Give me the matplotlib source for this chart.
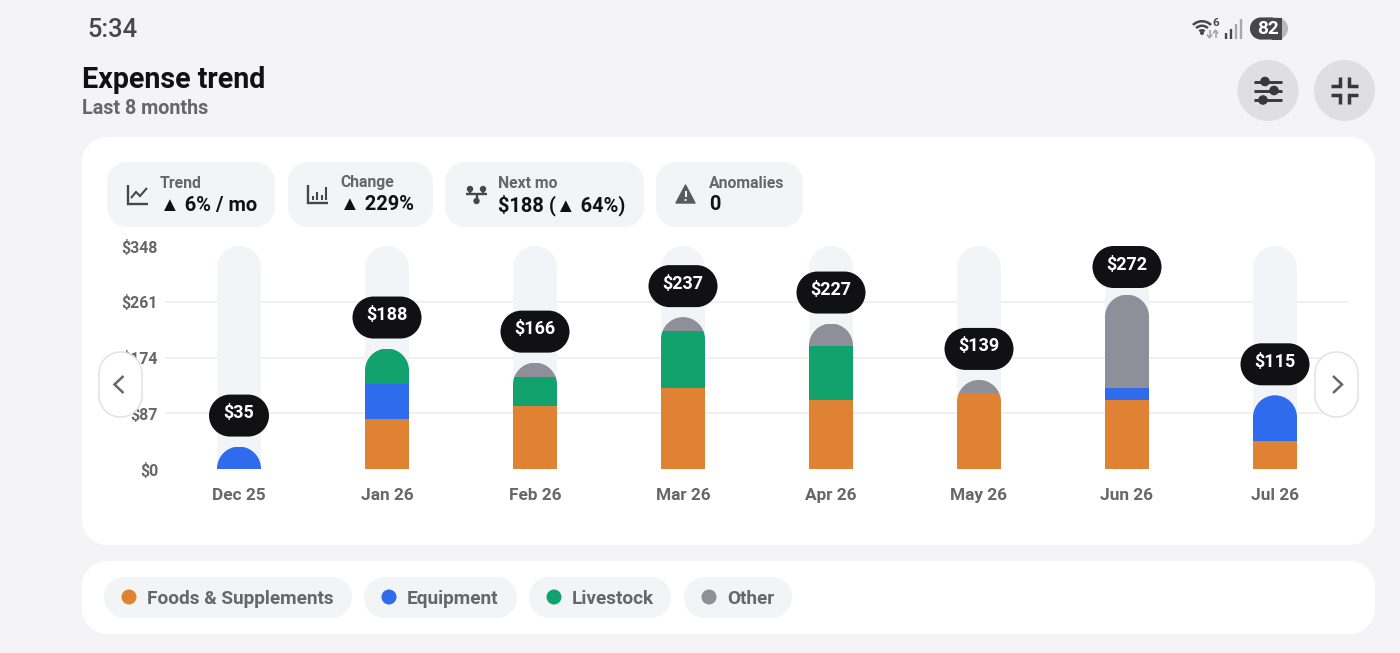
import matplotlib
matplotlib.use("Agg")
import matplotlib.pyplot as plt
from matplotlib.patches import Circle, Polygon, Wedge, PathPatch
from matplotlib.path import Path
from matplotlib.transforms import IdentityTransform

plt.rcParams["font.family"] = ["Roboto", "Liberation Sans", "DejaVu Sans"]

months = ["Dec 25", "Jan 26", "Feb 26", "Mar 26", "Apr 26", "May 26", "Jun 26", "Jul 26"]
foods = [0, 78, 99, 126, 107, 118, 107, 44]
equipment = [35, 55, 0, 0, 0, 0, 19, 71]
livestock = [0, 55, 45, 89, 85, 0, 0, 0]
other = [0, 0, 22, 22, 35, 21, 146, 0]
totals = [35, 188, 166, 237, 227, 139, 272, 115]
y_ticks = [0, 87, 174, 261, 348]

legend_names = ["Foods & Supplements", "Equipment", "Livestock", "Other"]
stat_names = ["Trend", "Change", "Next mo", "Anomalies"]
stat_values = ["▲ 6% / mo", "▲ 229%", "$188 (▲ 64%)", "0"]

BG = "#f4f4f7"
ORANGE = "#e08233"
BLUE = "#2f6bed"
GREEN = "#12a26d"
GREY = "#8e8f98"
DARK = "#111113"
MUTED = "#66666b"
ICON = "#47474b"

W, H = 1400, 653
K = 0.5523


def px(size):
    return size * 0.72


def rbox(axis, x0, y0, x1, y1, r, fc, ec="none", lw=0, z=1):
    # rounded rectangle with true circular corners
    c = r * (1 - K)
    verts = [(x0 + r, y0), (x1 - r, y0),
             (x1 - c, y0), (x1, y0 + c), (x1, y0 + r),
             (x1, y1 - r),
             (x1, y1 - c), (x1 - c, y1), (x1 - r, y1),
             (x0 + r, y1),
             (x0 + c, y1), (x0, y1 - c), (x0, y1 - r),
             (x0, y0 + r),
             (x0, y0 + c), (x0 + c, y0), (x0 + r, y0),
             (x0 + r, y0)]
    codes = [Path.MOVETO, Path.LINETO] + [Path.CURVE4] * 3 + [Path.LINETO] + [Path.CURVE4] * 3 + \
            [Path.LINETO] + [Path.CURVE4] * 3 + [Path.LINETO] + [Path.CURVE4] * 3 + [Path.CLOSEPOLY]
    axis.add_patch(PathPatch(Path(verts, codes), fc=fc, ec=ec, lw=lw, zorder=z))


def line(axis, xs, ys, lw=1.7, c=ICON, z=3):
    axis.plot(xs, ys, color=c, lw=lw, solid_capstyle="butt", solid_joinstyle="miter", zorder=z)


fig = plt.figure(figsize=(W / 100, H / 100), dpi=100, facecolor=BG)

# page layer, in pixels
ui = fig.add_axes([0, 0, 1, 1], zorder=0)
ui.set_xlim(0, W)
ui.set_ylim(H, 0)
ui.axis("off")

# status bar
ui.text(87, 30, "5:34", fontsize=px(25.5), color="#47474b", weight="medium", va="center")
for rr in [14, 9.5, 5]:
    ui.add_patch(Wedge((1202, 34), rr, 225, 315, width=2.5, fc=ICON, ec="none"))
ui.add_patch(Circle((1202, 33), 2, fc=ICON, ec="none"))
ui.text(1215.5, 23, "6", fontsize=px(11.5), color=ICON, weight="bold", ha="center", va="center")
line(ui, [1209.5, 1209.5], [30, 37], lw=1.1, c="#a0a0a4")
line(ui, [1207, 1209.5, 1212], [34.5, 38, 34.5], lw=1.1, c="#a0a0a4")
line(ui, [1215.5, 1215.5], [31, 38], lw=1.1, c="#a0a0a4")
line(ui, [1213, 1215.5, 1218], [33.5, 30, 33.5], lw=1.1, c="#a0a0a4")
for i, (sx, top) in enumerate(zip([1226, 1231, 1236, 1241], [33, 29, 24, 19])):
    line(ui, [sx, sx], [top, 38.5], lw=1.7, c=ICON if i < 2 else "#a8a8ac")
rbox(ui, 1250, 17.5, 1288, 39.5, 11, "#b9b9bb")
rbox(ui, 1250, 17.5, 1282, 39.5, 11, "#47474b")
ui.add_patch(plt.Rectangle((1272, 17.5), 10, 22, fc="#47474b", ec="none", zorder=1.1))
ui.text(1268.5, 29.5, "82", fontsize=px(19), color="white", weight="bold", ha="center", va="center", zorder=3)

# header
ui.text(82, 79.5, "Expense trend", fontsize=px(28.6), color=DARK, weight="bold", va="center")
ui.text(82, 108.5, "Last 8 months", fontsize=px(19.8), color=MUTED, weight="bold", va="center")

ui.add_patch(Circle((1268, 90.5), 30.5, fc="#dfdfe1", ec="none"))
ui.add_patch(Circle((1344.5, 90.5), 30.5, fc="#dfdfe1", ec="none"))
for yy, kx in zip([81.5, 90.5, 100], [1265, 1274, 1263]):
    line(ui, [1254, 1282], [yy, yy], lw=2.1, c="#38383c")
    ui.add_patch(Circle((kx, yy), 4.8, fc="#38383c", ec="none", zorder=4))
for sx, sy in [(-1, -1), (1, -1), (-1, 1), (1, 1)]:
    cx, cy = 1344.5 + sx * 4.5, 90.5 + sy * 4.5
    line(ui, [cx + sx * 9, cx, cx], [cy, cy, cy + sy * 9], lw=2.5, c="#38383c")

# cards
rbox(ui, 82, 137, 1375, 545, 25, "white")
rbox(ui, 82, 561, 1375, 634, 25, "white")

# stat pills
stat_boxes = [(107, 275), (288, 433), (445, 644), (656, 803)]
stat_text_x = [160, 340, 498, 709]
for (x0, x1), tx, name, val in zip(stat_boxes, stat_text_x, stat_names, stat_values):
    rbox(ui, x0, 162, x1, 227, 20, "#f3f4f6", z=2)
    ui.text(tx, 183, name, fontsize=px(15.8), color=MUTED, weight="bold", va="center", zorder=3)
    ui.text(tx, 205, val, fontsize=px(20), color=DARK, weight="bold", va="center", zorder=3)

# trend icon
line(ui, [127.5, 127.5, 148], [185, 204, 204])
line(ui, [131, 136, 140, 147], [198, 192, 196, 188], lw=1.5)
# change icon
line(ui, [308, 308, 328], [185, 203, 203])
for bx, bt in zip([312.5, 317, 321.5, 326], [196, 192, 195, 187]):
    line(ui, [bx, bx], [bt, 199.5], lw=1.5)
# next mo icon
line(ui, [466, 487], [193.5, 193.5])
line(ui, [476.5, 476.5], [193.5, 200])
for nx, ny in [(470, 189), (483, 189), (476.5, 201)]:
    ui.add_patch(Circle((nx, ny), 3.2, fc=ICON, ec="none", zorder=3))
line(ui, [470, 470], [189, 193.5])
line(ui, [483, 483], [189, 193.5])
# anomalies icon
ui.add_patch(Polygon([(685.5, 185), (695, 203), (676, 203)], closed=True, fc="#5a5a5e", ec="#5a5a5e", lw=1, joinstyle="round", zorder=3))
line(ui, [685.5, 685.5], [191, 197], lw=1.5, c="#f3f4f6", z=4)
ui.add_patch(Circle((685.5, 200), 1.1, fc="#f3f4f6", ec="none", zorder=4))

# legend
legend_boxes = [(104, 352), (364, 517), (529, 671), (684, 792)]
legend_dots = [129, 389, 554, 709]
for (x0, x1), dx, name, col in zip(legend_boxes, legend_dots, legend_names, [ORANGE, BLUE, GREEN, GREY]):
    rbox(ui, x0, 577, x1, 618, 20.5, "#f3f4f6", z=2)
    ui.add_patch(Circle((dx, 597), 7.5, fc=col, ec="none", zorder=3))
    ui.text(dx + 18, 598.5, name, fontsize=px(18.95), color=MUTED, weight="bold", va="center", zorder=3)

# chart
ax = fig.add_axes([165 / W, 1 - 469 / H, (1349 - 165) / W, (469 - 246) / H], zorder=1)
ax.patch.set_alpha(0)
ax.set_xlim(-0.5, len(months) - 0.5)
ax.set_ylim(0, y_ticks[-1])
for s in ax.spines.values():
    s.set_visible(False)
ax.set_xticks(range(len(months)))
ax.set_xticklabels(months, fontsize=px(17.2), color=MUTED, weight="bold")
ax.set_yticks(y_ticks)
ax.set_yticklabels([f"${v}" for v in y_ticks], fontsize=px(15.9), color=MUTED, weight="bold")
ax.tick_params(length=0)
ax.tick_params(axis="x", pad=13.5)
ax.tick_params(axis="y", pad=5)
ax.set_axisbelow(True)
ax.grid(axis="y", color="#eeeeef", lw=1.2)
ax.grid(axis="x", visible=False)
for gl, v in zip(ax.get_ygridlines(), y_ticks):
    if v in (0, y_ticks[-1]):
        gl.set_visible(False)

BAR_W = 44 / 148
RADIUS = 22


def top_rounded(i, value):
    # display-space outline of a bar with a rounded top
    cx, base = ax.transData.transform((i, 0))
    _, top = ax.transData.transform((i, value))
    l, rt = cx - RADIUS, cx + RADIUS
    k = RADIUS * K
    verts = [(l, base), (l, top - RADIUS),
             (l, top - RADIUS + k), (cx - k, top), (cx, top),
             (cx + k, top), (rt, top - RADIUS + k), (rt, top - RADIUS),
             (rt, base), (l, base)]
    codes = [Path.MOVETO, Path.LINETO, Path.CURVE4, Path.CURVE4, Path.CURVE4,
             Path.CURVE4, Path.CURVE4, Path.CURVE4, Path.LINETO, Path.CLOSEPOLY]
    return Path(verts, codes)


tracks = ax.bar(range(len(months)), [y_ticks[-1]] * len(months), width=BAR_W, color="#f3f4f7", zorder=2)
for i, b in enumerate(tracks):
    b.set_clip_path(top_rounded(i, y_ticks[-1]), IdentityTransform())

bottom = [0] * len(months)
for series, col in zip([foods, equipment, livestock, other], [ORANGE, BLUE, GREEN, GREY]):
    bars = ax.bar(range(len(months)), series, width=BAR_W, bottom=bottom, color=col, zorder=3)
    for i, b in enumerate(bars):
        b.set_clip_path(top_rounded(i, totals[i]), IdentityTransform())
    bottom = [a + b for a, b in zip(bottom, series)]

# front layer: tooltips and arrows
front = fig.add_axes([0, 0, 1, 1], zorder=2)
front.set_xlim(0, W)
front.set_ylim(H, 0)
front.axis("off")

to_front = ax.transData + front.transData.inverted()
for i, total in enumerate(totals):
    cx, top = to_front.transform((i, total))
    label = f"${total}"
    half = 30 if len(label) == 3 else 34.5
    y1 = max(288, top - 10)
    rbox(front, cx - half, y1 - 42, cx + half, y1, 21, DARK, z=5)
    front.text(cx, y1 - 23.5, label, fontsize=px(18), color="white", weight="bold",
               ha="center", va="center", zorder=6)

for x0, x1, pts in [(99, 142, [(123.5, 376), (114.5, 384.5), (123.5, 393)]),
                    (1315, 1358, [(1333, 376), (1342, 384.5), (1333, 393)])]:
    rbox(front, x0, 352, x1, 417, 21.5, "white", ec="#e2e2e4", lw=1.1, z=5)
    front.plot([p[0] for p in pts], [p[1] for p in pts], color=MUTED, lw=1.8, zorder=6,
               solid_joinstyle="miter", solid_capstyle="butt")

fig.savefig("out.png", facecolor=fig.get_facecolor())
